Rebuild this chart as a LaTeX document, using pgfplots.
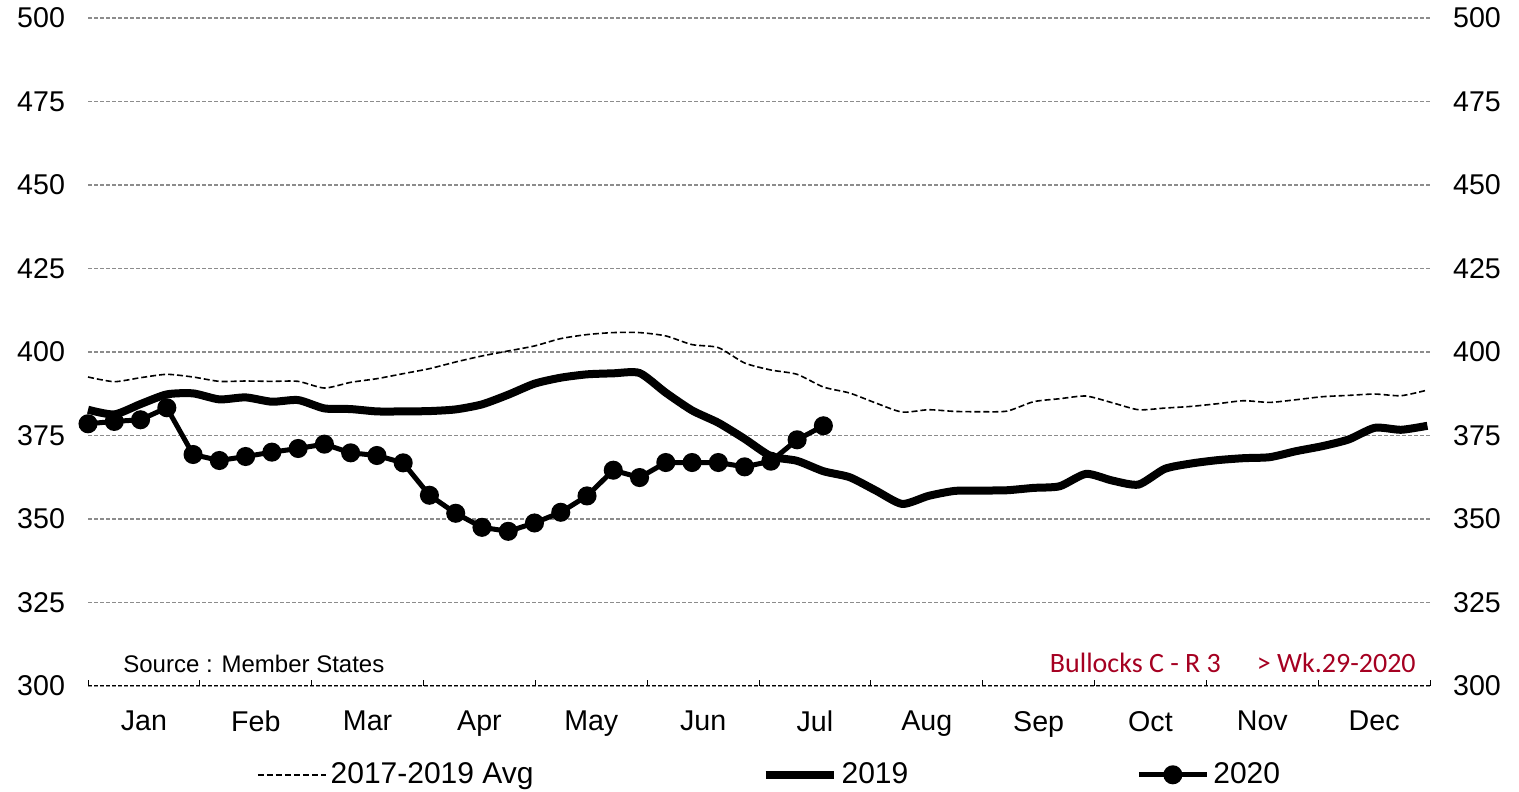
\documentclass[border=0pt]{standalone}
\usepackage{pgfplots}
\pgfplotsset{compat=1.18}
\usepackage{fontspec}
\setmainfont{Liberation Sans}
\newfontfamily\carlito{Carlito}
\definecolor{tagred}{HTML}{A50021}
\definecolor{gridgray}{HTML}{8C8C8C}

\begin{document}
\begin{tikzpicture}[font=\fontsize{14}{17}\selectfont]
  \pgfplotsset{
    common/.style={
      width=671pt, height=334pt, scale only axis,
      xmin=1, xmax=52.1, ymin=300, ymax=500,
      ytick={300,325,...,500},
      /pgf/number format/assume math mode=true,
      tick label style={font=\fontsize{14.3}{17}\selectfont},
      ytick style={draw=none},
    },
  }
  \begin{axis}[
      common,
      axis x line*=bottom, axis y line*=left,
      x axis line style={black, line width=0.5pt, dash pattern=on 2pt off 1pt, -},
      y axis line style={draw=none},
      xtick={1,5.2583,9.5167,13.775,18.033,22.292,26.55,30.808,35.067,39.325,43.583,47.842,52.1},
      xticklabels={Jan,Feb,Mar,Apr,May,Jun,Jul,Aug,Sep,Oct,Nov,Dec},
      x tick label as interval,
      xtick style={black, line width=0.5pt},
      tick align=inside, major tick length=3pt,
      xticklabel style={yshift=-9pt},
      yticklabel style={xshift=-8pt},
      ymajorgrids,
      major grid style={gridgray, line width=0.6pt, dash pattern=on 2pt off 1pt},
      clip=false,
      legend columns=3,
      legend style={at={(rel axis cs:0.5086,-0.133)}, anchor=center, draw=none, fill=none,
        font=\fontsize{15}{18}\selectfont,
        nodes={inner sep=2pt},
        /tikz/every even column/.append style={column sep=112pt}},
      legend image code/.code={\draw[mark repeat=2,mark phase=2,#1] plot coordinates {(0pt,0pt) (17pt,0pt) (34pt,0pt)};},
    ]
    % 2017-2019 average
    \addplot[black, line width=0.8pt, dash pattern=on 3pt off 1.5pt, smooth, tension=0.4] coordinates {
      (1,392.5) (2,391.1) (3,392.3) (4,393.3) (5,392.5) (6,391.2) (7,391.3) (8,391.2)
      (9,391.2) (10,389.2) (11,390.9) (12,392.0) (13,393.5) (14,395.0) (15,397.0) (16,398.8)
      (17,400.3) (18,401.8) (19,404.0) (20,405.2) (21,405.8) (22,405.8) (23,404.8) (24,402.2)
      (25,401.3) (26,396.7) (27,394.6) (28,393.3) (29,389.5) (30,387.7) (31,384.7) (32,382.0)
      (33,382.7) (34,382.2) (35,382.1) (36,382.3) (37,385.1) (38,386.0) (39,386.8) (40,384.8)
      (41,382.7) (42,383.2) (43,383.7) (44,384.5) (45,385.4) (46,384.9) (47,385.7) (48,386.6)
      (49,387.0) (50,387.4) (51,386.9) (52,388.6)};
    \addlegendentry{2017-2019 Avg}
    % 2019
    \addplot[black, line width=4pt, smooth, tension=0.4] coordinates {
      (1,382.7) (2,381.3) (3,384.4) (4,387.3) (5,387.6) (6,385.8) (7,386.4) (8,385.1)
      (9,385.6) (10,383.1) (11,382.9) (12,382.2) (13,382.2) (14,382.3) (15,382.8) (16,384.3)
      (17,387.2) (18,390.5) (19,392.3) (20,393.3) (21,393.6) (22,393.7) (23,387.8) (24,382.5)
      (25,378.8) (26,374.0) (27,368.8) (28,367.4) (29,364.3) (30,362.5) (31,358.5) (32,354.5)
      (33,356.9) (34,358.4) (35,358.5) (36,358.6) (37,359.3) (38,359.8) (39,363.5) (40,361.5)
      (41,360.3) (42,365.0) (43,366.6) (44,367.6) (45,368.2) (46,368.5) (47,370.3) (48,371.8)
      (49,373.8) (50,377.3) (51,376.7) (52,377.9)};
    \addlegendentry{2019}
    % 2020
    \addplot[black, line width=2.5pt, mark=*, mark size=3.5pt, mark options={solid}] coordinates {
      (1,378.5) (2,379.2) (3,379.7) (4,383.3) (5,369.3) (6,367.5) (7,368.7) (8,370.0)
      (9,371.1) (10,372.4) (11,369.8) (12,369.0) (13,366.8) (14,357.1) (15,351.7) (16,347.5)
      (17,346.3) (18,348.8) (19,352.0) (20,356.9) (21,364.6) (22,362.4) (23,366.9) (24,366.9)
      (25,366.9) (26,365.6) (27,367.3) (28,373.7) (29,377.9)};
    \addlegendentry{2020}

    \node[anchor=base west, inner sep=0pt, font=\fontsize{12}{14}\selectfont] at (rel axis cs:0.026,0.0195) {Source : Member States};
    \node[anchor=base east, inner sep=0pt, text=tagred, font=\carlito\fontsize{14}{17}\selectfont] at (rel axis cs:0.9896,0.0195) {Bullocks C - R 3\hspace{18pt}> Wk.29-2020};

    \coordinate (bl) at (rel axis cs:-0.0656,-0.1587);
    \coordinate (tr) at (rel axis cs:1.0663,1.0269);
  \end{axis}
  \begin{axis}[
      common,
      axis x line=none, axis y line*=right,
      y axis line style={draw=none},
      yticklabel pos=right,
      yticklabel style={xshift=8pt},
    ]
    \addplot[draw=none] coordinates {(1,300) (52,300)};
  \end{axis}
  \pgfresetboundingbox
  \path[use as bounding box] (bl) rectangle (tr);
\end{tikzpicture}
\end{document}
